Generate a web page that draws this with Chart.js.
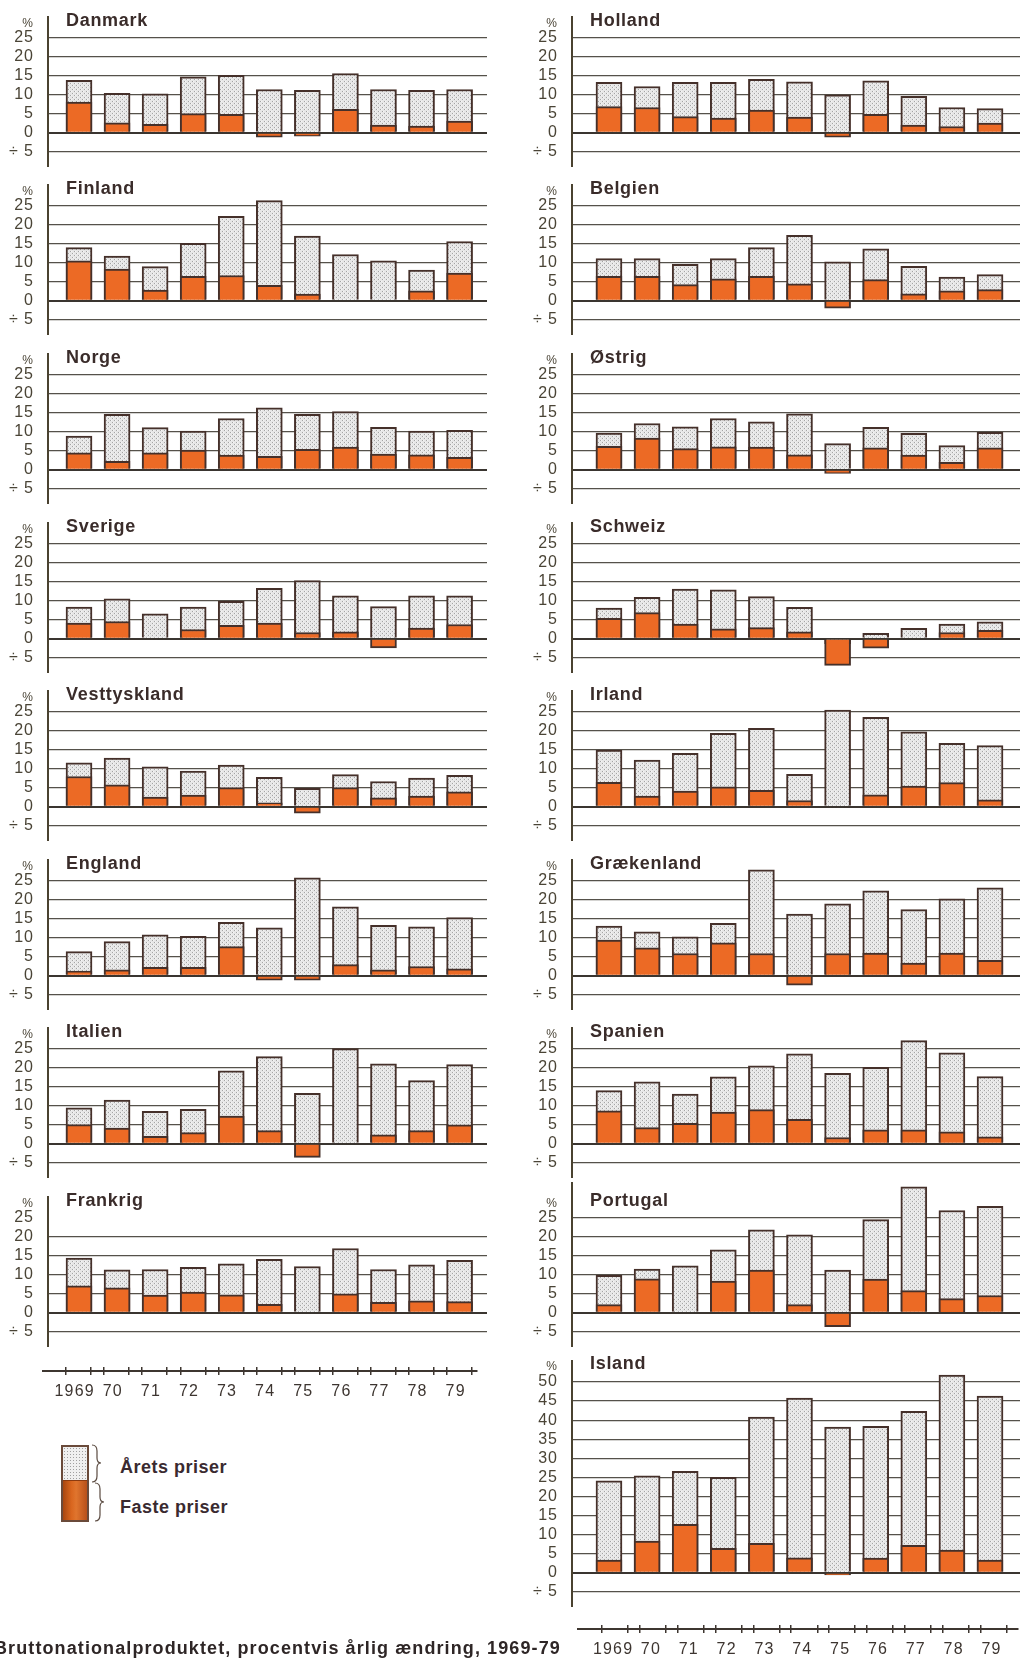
<!DOCTYPE html>
<html>
<head>
<meta charset="utf-8">
<script src="https://cdn.jsdelivr.net/npm/chart.js@4.4.0/dist/chart.umd.min.js"></script>
<style>
  html, body { margin: 0; padding: 0; background: #ffffff; }
  body { width: 1020px; height: 1658px; position: relative; overflow: hidden; font-family: "Liberation Sans", Arial, sans-serif; }
  canvas { position: absolute; }
  .lg { position: absolute; font-weight: bold; font-size: 18px; color: #3a2a30; letter-spacing: 0.5px; white-space: nowrap; }
  #caption { position: absolute; left: -6px; top: 1638px; font-weight: bold; font-size: 18px; color: #2e2626; letter-spacing: 1.1px; white-space: nowrap; }
</style>
</head>
<body>
<div id="wrap"></div>

<div style="position:absolute;left:61px;top:1445px;width:28px;height:77px;box-sizing:border-box;border:2px solid #6a4a3a;overflow:hidden;">
  <div style="height:33px;background-color:#f0f0f0;background-image:radial-gradient(#a0a0a0 0.6px, transparent 0.9px);background-size:3px 3px;"></div>
  <div style="height:42px;background:linear-gradient(to right,#a8460f,#d9661f 35%,#e0752e 55%,#b8501a);border-top:1px solid #8a3a10;"></div>
</div>
<svg style="position:absolute;left:90px;top:1443px;" width="20" height="82" viewBox="0 0 20 82">
  <path d="M2 2 Q7 2 7 8 L7 15 Q7 20 11 20 Q7 20 7 25 L7 33 Q7 39 2 39" fill="none" stroke="#5a4a40" stroke-width="1.2"/>
  <path d="M5 40 Q10 40 10 46 L10 54 Q10 59 14 59 Q10 59 10 64 L10 72 Q10 78 5 78" fill="none" stroke="#5a4a40" stroke-width="1.2"/>
</svg>
<div class="lg" style="left:120px;top:1457px;">Årets priser</div>
<div class="lg" style="left:120px;top:1497px;">Faste priser</div>
<div id="caption">Bruttonationalproduktet, procentvis årlig ændring, 1969-79</div>

<script>
// ---------- DATA ----------
const years = ['1969', '70', '71', '72', '73', '74', '75', '76', '77', '78', '79'];
const yTicks = [-5, 0, 5, 10, 15, 20, 25];
const yTicksIsland = [-5, 0, 5, 10, 15, 20, 25, 30, 35, 40, 45, 50];

// "Årets priser" (current prices) and "Faste priser" (constant prices), % change
const danmarkAarets      = [13.7, 10.3, 10.2, 14.6, 15.0, 11.3, 11.1, 15.5, 11.3, 11.1, 11.3];
const danmarkFaste       = [8.0, 2.6, 2.2, 5.0, 4.8, -1.2, -0.9, 6.1, 2.0, 1.7, 3.0];
const finlandAarets      = [13.9, 11.7, 8.9, 15.0, 22.1, 26.2, 16.9, 12.1, 10.4, 8.0, 15.5];
const finlandFaste       = [10.4, 8.3, 2.8, 6.4, 6.6, 4.0, 1.7, 0, 0, 2.6, 7.2];
const norgeAarets        = [8.8, 14.5, 11.0, 10.1, 13.4, 16.2, 14.5, 15.2, 11.1, 10.1, 10.3];
const norgeFaste         = [4.4, 2.2, 4.4, 5.1, 3.8, 3.5, 5.3, 5.9, 4.1, 3.9, 3.2];
const sverigeAarets      = [8.3, 10.4, 6.5, 8.3, 9.8, 13.2, 15.2, 11.2, 8.4, 11.2, 11.2];
const sverigeFaste       = [4.1, 4.5, 0, 2.4, 3.5, 4.1, 1.6, 1.8, -2.4, 2.8, 3.7];
const vesttysklandAarets = [11.5, 12.7, 10.4, 9.3, 10.9, 7.7, 4.8, 8.4, 6.6, 7.5, 8.2];
const vesttysklandFaste  = [7.9, 5.7, 2.5, 3.0, 5.0, 1.0, -1.7, 5.0, 2.3, 2.8, 3.9];
const englandAarets      = [6.3, 8.9, 10.7, 10.3, 14.0, 12.5, 25.6, 18.0, 13.2, 12.8, 15.2];
const englandFaste       = [1.2, 1.5, 2.2, 2.2, 7.6, -1.2, -1.2, 2.9, 1.5, 2.4, 1.8];
const italienAarets      = [9.4, 11.4, 8.5, 9.0, 19.1, 22.8, 13.2, 24.9, 20.9, 16.5, 20.7];
const italienFaste       = [5.0, 4.1, 1.9, 2.9, 7.2, 3.4, -3.6, 0, 2.3, 3.4, 4.9];
const frankrigAarets     = [14.3, 11.2, 11.3, 11.9, 12.8, 14.0, 12.1, 16.8, 11.3, 12.5, 13.7];
const frankrigFaste      = [7.0, 6.5, 4.6, 5.4, 4.7, 2.2, 0, 4.9, 2.7, 3.1, 2.9];
const hollandAarets      = [13.2, 12.1, 13.2, 13.2, 14.0, 13.3, 9.9, 13.6, 9.5, 6.6, 6.3];
const hollandFaste       = [6.8, 6.6, 4.2, 3.8, 5.9, 4.1, -1.2, 4.8, 2.0, 1.6, 2.5];
const belgienAarets      = [11.0, 11.0, 9.5, 11.0, 13.9, 17.1, 10.2, 13.6, 9.0, 6.2, 6.8];
const belgienFaste       = [6.4, 6.4, 4.2, 5.7, 6.4, 4.4, -2.0, 5.5, 1.8, 2.6, 2.9];
const oestrigAarets      = [9.6, 12.1, 11.2, 13.4, 12.5, 14.6, 6.8, 11.1, 9.5, 6.3, 9.8];
const oestrigFaste       = [6.1, 8.3, 5.5, 6.0, 5.9, 3.9, -1.0, 5.7, 3.8, 1.9, 5.7];
const schweizAarets      = [8.0, 10.8, 13.0, 12.8, 11.0, 8.2, -1.3, 1.4, 2.7, 3.8, 4.4];
const schweizFaste       = [5.3, 6.8, 3.8, 2.6, 2.9, 1.8, -7.0, -2.5, 0, 1.6, 2.2];
const irlandAarets       = [14.8, 12.2, 14.0, 19.2, 20.5, 8.5, 25.3, 23.4, 19.6, 16.6, 16.0];
const irlandFaste        = [6.4, 2.8, 4.1, 5.2, 4.3, 1.6, 0, 3.1, 5.4, 6.3, 1.8];
const graekenlandAarets  = [13.0, 11.5, 10.2, 13.7, 27.7, 16.1, 18.8, 22.2, 17.3, 20.1, 23.0];
const graekenlandFaste   = [9.3, 7.3, 5.8, 8.6, 5.8, -2.5, 5.8, 5.9, 3.3, 5.9, 4.0];
const spanienAarets      = [13.9, 16.2, 13.0, 17.5, 20.4, 23.5, 18.4, 20.0, 27.0, 23.8, 17.6];
const spanienFaste       = [8.6, 4.2, 5.3, 8.3, 8.9, 6.4, 1.6, 3.6, 3.6, 3.1, 1.8];
const portugalAarets     = [9.8, 11.4, 12.3, 16.5, 21.7, 20.4, 11.2, 24.4, 33.0, 26.8, 27.9];
const portugalFaste      = [2.1, 8.9, 0, 8.3, 11.2, 2.1, -3.7, 8.8, 5.8, 3.7, 4.5];
const islandAarets       = [24.1, 25.4, 26.6, 25.0, 40.8, 45.8, 38.2, 38.4, 42.3, 51.8, 46.3];
const islandFaste        = [3.3, 8.3, 12.7, 6.4, 7.7, 3.9, -0.6, 3.8, 7.2, 5.9, 3.3];

// ---------- PANELS (column, row) ----------
const panels = [
  { name: 'Danmark',      aar: danmarkAarets,      fas: danmarkFaste,      col: 0, row: 0 },
  { name: 'Finland',      aar: finlandAarets,      fas: finlandFaste,      col: 0, row: 1 },
  { name: 'Norge',        aar: norgeAarets,        fas: norgeFaste,        col: 0, row: 2 },
  { name: 'Sverige',      aar: sverigeAarets,      fas: sverigeFaste,      col: 0, row: 3 },
  { name: 'Vesttyskland', aar: vesttysklandAarets, fas: vesttysklandFaste, col: 0, row: 4 },
  { name: 'England',      aar: englandAarets,      fas: englandFaste,      col: 0, row: 5 },
  { name: 'Italien',      aar: italienAarets,      fas: italienFaste,      col: 0, row: 6 },
  { name: 'Frankrig',     aar: frankrigAarets,     fas: frankrigFaste,     col: 0, row: 7, hide25: true },
  { name: 'Holland',      aar: hollandAarets,      fas: hollandFaste,      col: 1, row: 0 },
  { name: 'Belgien',      aar: belgienAarets,      fas: belgienFaste,      col: 1, row: 1 },
  { name: 'Østrig',       aar: oestrigAarets,      fas: oestrigFaste,      col: 1, row: 2 },
  { name: 'Schweiz',      aar: schweizAarets,      fas: schweizFaste,      col: 1, row: 3 },
  { name: 'Irland',       aar: irlandAarets,       fas: irlandFaste,       col: 1, row: 4 },
  { name: 'Grækenland',   aar: graekenlandAarets,  fas: graekenlandFaste,  col: 1, row: 5 },
  { name: 'Spanien',      aar: spanienAarets,      fas: spanienFaste,      col: 1, row: 6 },
  { name: 'Portugal',     aar: portugalAarets,     fas: portugalFaste,     col: 1, row: 7, tall: true },
  { name: 'Island',       aar: islandAarets,       fas: islandFaste,       col: 1, row: 8, island: true }
];

// ---------- STYLE / LAYOUT ----------
const FONT = '"Liberation Sans", Arial, sans-serif';
const ORANGE = '#ec6a25';
const BORDER = '#45302a';
const GRID = '#55514a';
const AXIS = '#4a4230';
const TICKCOL = '#4a4436';
const PPU = 3.82;           // pixels per percentage point
const YMIN = -9;
const TOPPAD = 12;          // room above the plot for the panel title
const colGeom = [
  { left: 0,   width: 487, axisW: 48, xmin: -0.815, xmax: 10.72 },
  { left: 510, width: 510, axisW: 62, xmin: -0.971, xmax: 10.787 }
];

function stipple() {
  const c = document.createElement('canvas');
  c.width = 4; c.height = 4;
  const g = c.getContext('2d');
  g.fillStyle = '#e6e6e6'; g.fillRect(0, 0, 4, 4);
  g.fillStyle = '#f6f6f6'; g.fillRect(1, 0, 1, 1); g.fillRect(3, 2, 1, 1);
  g.fillStyle = '#a4a4a4'; g.fillRect(0, 0, 1, 1); g.fillRect(2, 2, 1, 1);
  return g.createPattern(c, 'repeat');
}
const PATTERN = stipple();

// letter spacing for the axis texts (canvas property)
const spacingPlugin = {
  id: 'spacing',
  beforeDraw(chart, args, opts) { try { chart.ctx.letterSpacing = (opts.px || 0) + 'px'; } catch (e) {} },
  afterDraw(chart) { try { chart.ctx.letterSpacing = '0px'; } catch (e) {} }
};

const titlePlugin = {
  id: 'panelTitle',
  afterDraw(chart, args, opts) {
    const ctx = chart.ctx;
    const y = chart.scales.y.getPixelForValue(opts.at);
    ctx.save();
    ctx.font = 'bold 18px ' + FONT;
    ctx.fillStyle = '#3a2c2a';
    ctx.textBaseline = 'middle';
    ctx.textAlign = 'left';
    try { ctx.letterSpacing = '0.7px'; } catch (e) {}
    ctx.fillText(opts.text, chart.chartArea.left + 18, y);
    ctx.restore();
  }
};

const wrap = document.getElementById('wrap');

panels.forEach(p => {
  const g = colGeom[p.col];
  const ymax = p.island ? 55.5 : (p.tall ? 34 : 30.3);
  const pct = p.island ? 54 : 28.6;
  const tickVals = (p.island ? yTicksIsland : yTicks).concat([pct]);
  const zero = p.island ? 1573 : 132.5 + 168.6 * p.row;
  const top = Math.round(zero - ymax * PPU) - TOPPAD;
  const height = Math.round((ymax - YMIN) * PPU) + TOPPAD;

  const cv = document.createElement('canvas');
  cv.width = g.width; cv.height = height;
  cv.style.left = g.left + 'px'; cv.style.top = top + 'px';
  cv.style.width = g.width + 'px'; cv.style.height = height + 'px';
  wrap.appendChild(cv);

  const pts = arr => arr.map((v, i) => ({ x: i, y: v }));

  new Chart(cv.getContext('2d'), {
    type: 'bar',
    data: {
      datasets: [
        { label: 'Faste priser', data: pts(p.fas), backgroundColor: ORANGE, borderColor: BORDER,
          borderWidth: 2, grouped: false, barThickness: 26 },
        { label: 'Årets priser', data: pts(p.aar), backgroundColor: PATTERN, borderColor: BORDER,
          borderWidth: 2, grouped: false, barThickness: 26 }
      ]
    },
    options: {
      responsive: false,
      animation: false,
      events: [],
      layout: { padding: { top: TOPPAD, left: 0, right: 0, bottom: 0 } },
      plugins: { legend: { display: false }, tooltip: { enabled: false }, title: { display: false },
                 panelTitle: { text: p.name, at: pct + 0.7 }, spacing: { px: 1 } },
      scales: {
        x: { type: 'linear', display: false, min: g.xmin, max: g.xmax, offset: false },
        y: {
          type: 'linear', min: YMIN, max: ymax,
          afterBuildTicks: s => { s.ticks = tickVals.map(v => ({ value: v })); },
          afterFit: s => { s.width = g.axisW; s.paddingTop = 0; s.paddingBottom = 0; },
          border: { display: true, color: AXIS, width: 2 },
          grid: {
            drawTicks: false,
            color: c => {
              const v = c.tick ? c.tick.value : null;
              if (v === pct) return 'rgba(0,0,0,0)';
              if (p.hide25 && v === 25) return 'rgba(0,0,0,0)';
              return v === 0 ? '#3a3530' : GRID;
            },
            lineWidth: c => (c.tick && c.tick.value === 0 ? 2 : 1.2)
          },
          ticks: {
            padding: 14,
            color: TICKCOL,
            autoSkip: false,
            font: c => (c.tick && c.tick.value === pct ? { family: FONT, size: 12 } : { family: FONT, size: 16 }),
            callback: v => (v === pct ? '%' : v === -5 ? '÷ 5' : String(v))
          }
        }
      }
    },
    plugins: [spacingPlugin, titlePlugin]
  });
});

// ---------- bottom year axes ----------
function yearAxis(cfg) {
  const H = 36, AX = 32; // canvas height, axis box height
  const cv = document.createElement('canvas');
  cv.width = cfg.width; cv.height = H;
  cv.style.left = cfg.left + 'px'; cv.style.top = (cfg.axisY - (H - AX)) + 'px';
  cv.style.width = cfg.width + 'px'; cv.style.height = H + 'px';
  wrap.appendChild(cv);
  const tk = [];
  years.forEach((y, i) => {
    tk.push({ value: i - cfg.half, kind: 'edge' });
    tk.push({ value: i + cfg.labOff, kind: 'lab', lab: y });
    tk.push({ value: i + cfg.half, kind: 'edge' });
  });
  const isEdge = c => c.tick && c.tick.kind === 'edge';
  new Chart(cv.getContext('2d'), {
    type: 'scatter',
    data: { datasets: [] },
    options: {
      responsive: false, animation: false, events: [],
      layout: { padding: { left: cfg.padL, right: cfg.width - cfg.padL - cfg.lineLen } },
      plugins: { legend: { display: false }, tooltip: { enabled: false }, spacing: { px: 1.2 } },
      scales: {
        y: { display: false, min: 0, max: 1 },
        x: {
          type: 'linear', min: cfg.xmin, max: cfg.xmax,
          afterBuildTicks: s => { s.ticks = tk.map(t => Object.assign({}, t)); },
          afterFit: s => { s.height = AX; s.paddingLeft = 0; s.paddingRight = 0; },
          border: { display: true, color: '#3e3630', width: 2 },
          grid: {
            drawOnChartArea: true, drawTicks: true, tickLength: 4,
            color: c => (isEdge(c) ? '#3e3630' : 'rgba(0,0,0,0)'),
            tickColor: c => (isEdge(c) ? '#3e3630' : 'rgba(0,0,0,0)'),
            lineWidth: 1.5
          },
          ticks: {
            autoSkip: false, maxRotation: 0, minRotation: 0, padding: 7,
            color: '#3d3530', font: { family: FONT, size: 16 },
            callback: (v, i, arr) => (arr[i] && arr[i].kind === 'lab' ? arr[i].lab : '')
          }
        }
      }
    },
    plugins: [spacingPlugin]
  });
}
yearAxis({ left: 0, width: 500, padL: 43, lineLen: 434, axisY: 1371,
           xmin: -0.932, xmax: 10.46, half: 0.328, labOff: -0.1 });
yearAxis({ left: 560, width: 460, padL: 18, lineLen: 440, axisY: 1629,
           xmin: -0.978, xmax: 10.65, half: 0.345, labOff: -0.05 });
</script>
</body>
</html>
